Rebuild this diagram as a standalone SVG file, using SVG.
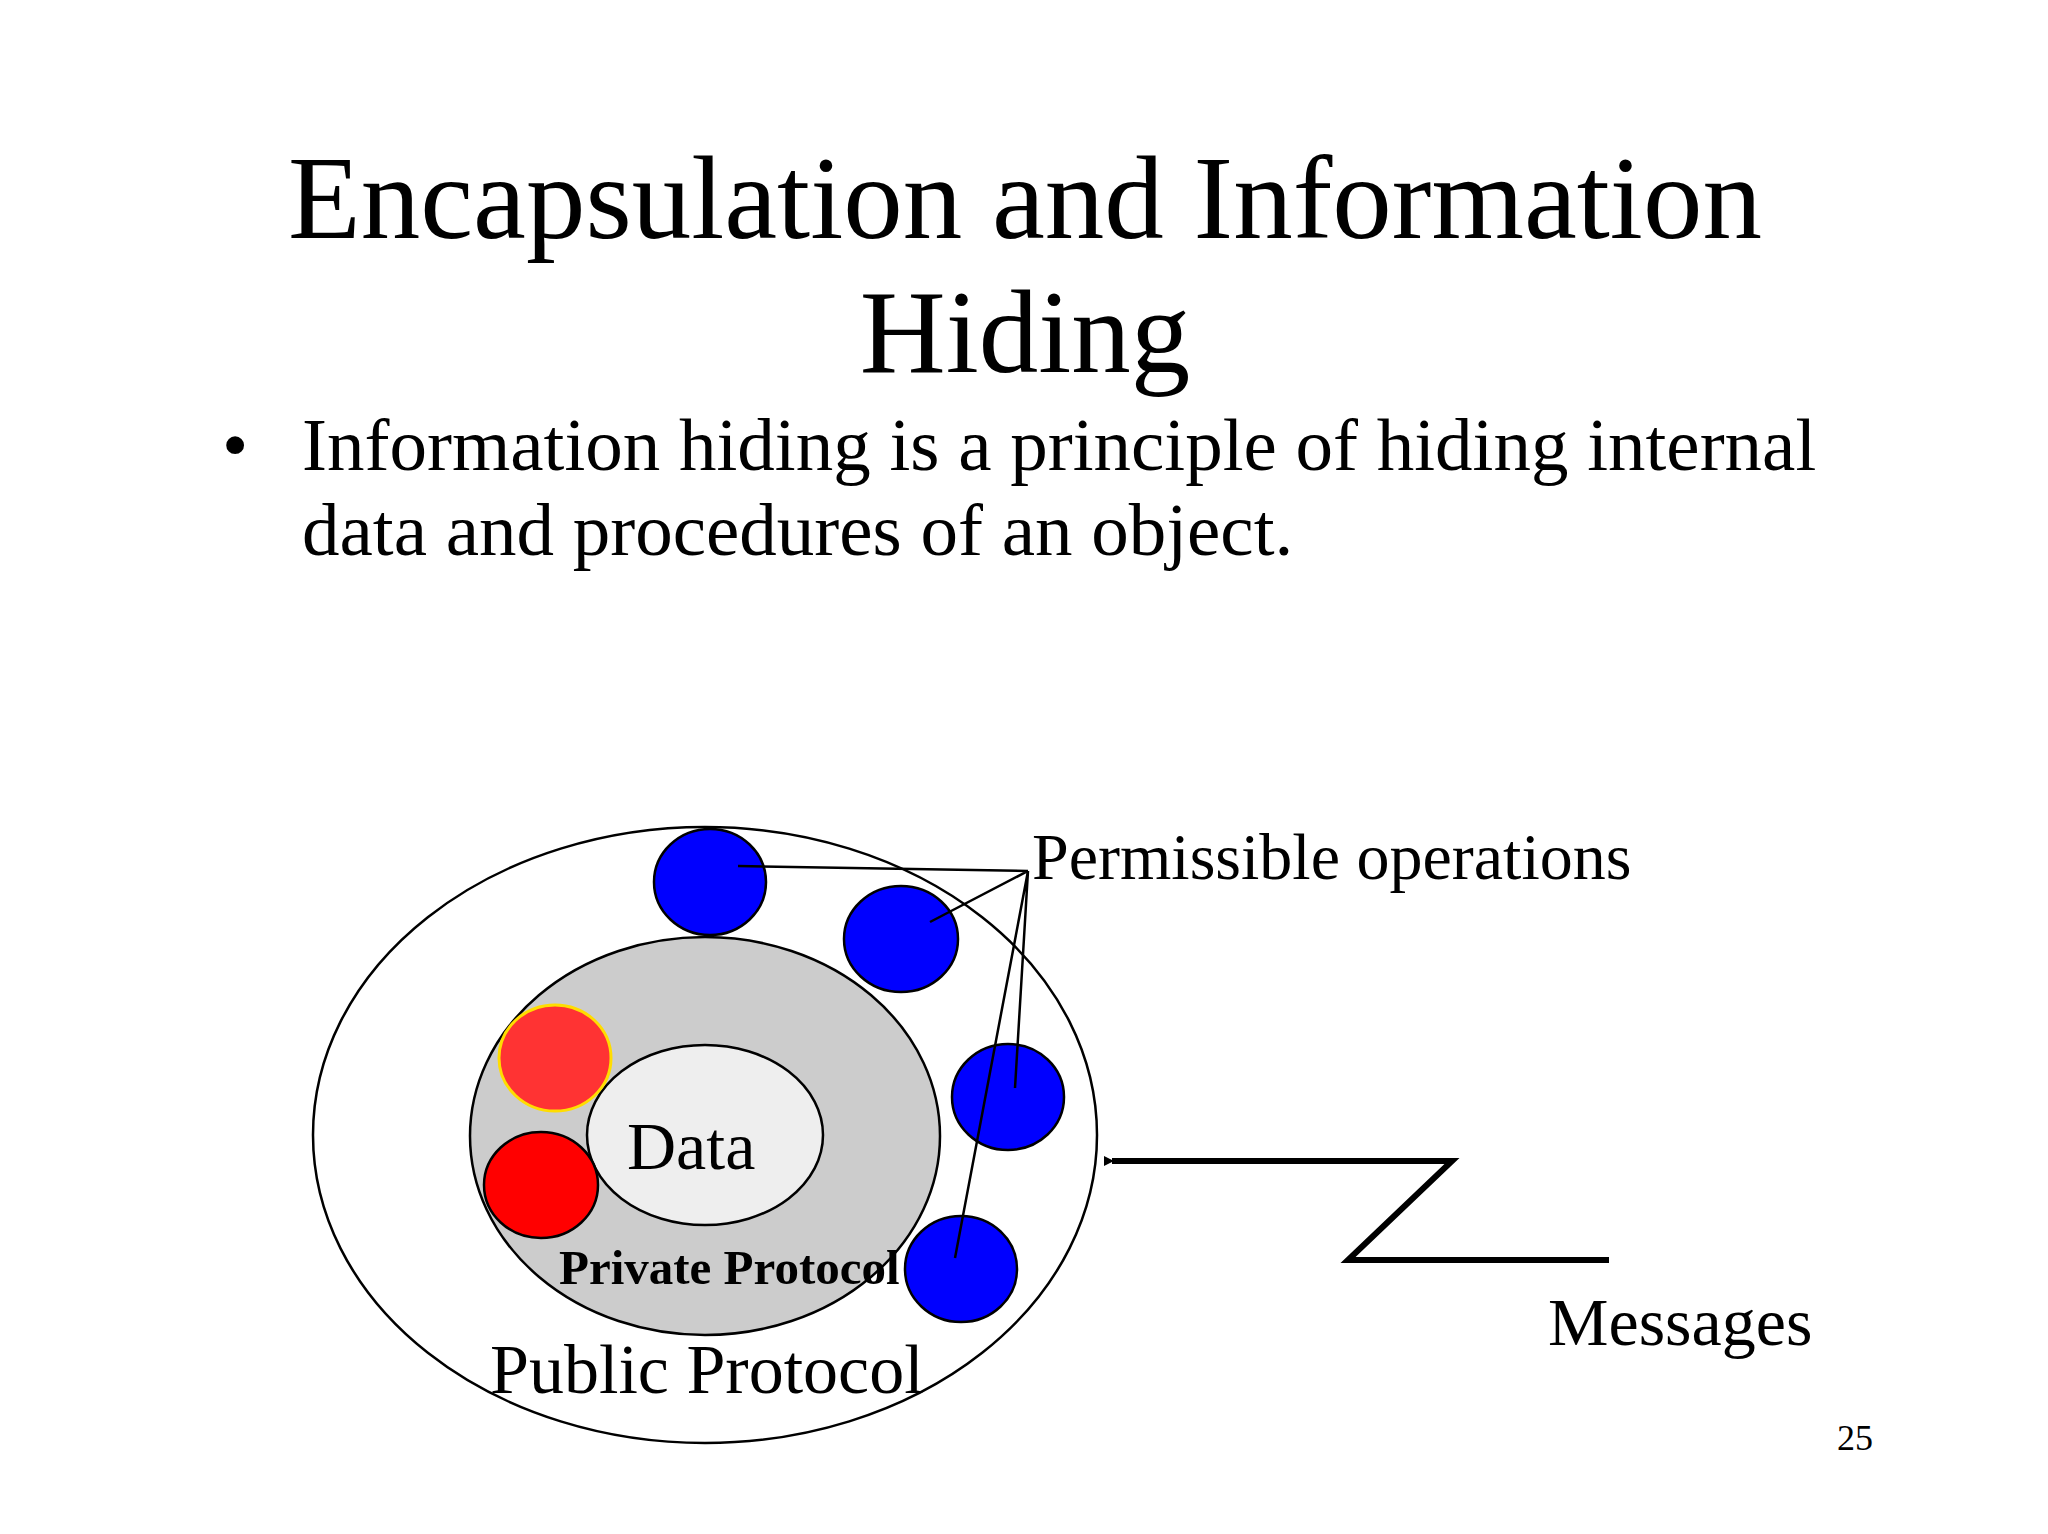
<svg xmlns="http://www.w3.org/2000/svg" width="2048" height="1534" viewBox="0 0 2048 1534">
<style>
text{font-family:"Liberation Serif","Times New Roman",serif;fill:#000}
.blue{fill:#0000ff;stroke:#000;stroke-width:2.5}
.ln{stroke:#000;stroke-width:2.5;fill:none}
</style>
<defs><marker id="ah" markerWidth="10" markerHeight="10" refX="2" refY="5" orient="auto" markerUnits="userSpaceOnUse" viewBox="0 0 10 10"><path d="M10,0 L0,5 L10,10 z" fill="#000"/></marker></defs>
<rect width="2048" height="1534" fill="#fff"/>
<text x="1025" y="238" font-size="119" text-anchor="middle">Encapsulation and Information</text>
<text x="1025" y="372" font-size="119" text-anchor="middle">Hiding</text>
<text x="222" y="470" font-size="75">•</text>
<text x="302" y="470" font-size="75">Information hiding is a principle of hiding internal</text>
<text x="302" y="555" font-size="75">data and procedures of an object.</text>
<g id="public"><ellipse cx="705" cy="1135" rx="392" ry="308" fill="#fff" stroke="#000" stroke-width="2.5"/><text x="490" y="1393" font-size="70">Public Protocol</text></g>
<g id="private"><ellipse cx="705" cy="1136" rx="235" ry="199" fill="#cccccc" stroke="#000" stroke-width="2.5"/><text x="559" y="1284" font-size="49" font-weight="bold">Private Protocol</text></g>
<g id="data"><ellipse cx="705" cy="1135" rx="118" ry="90" fill="#eeeeee" stroke="#000" stroke-width="2.5"/><text x="627" y="1169" font-size="68">Data</text></g>
<g id="red1"><ellipse cx="555" cy="1058" rx="56" ry="53" fill="#ff3333" stroke="#ffdd00" stroke-width="3"/></g>
<g id="red2"><ellipse cx="541" cy="1185" rx="57" ry="53" fill="#ff0000" stroke="#000" stroke-width="2.5"/></g>
<g id="op1"><ellipse class="blue" cx="710" cy="882" rx="56" ry="53"/></g>
<g id="op2"><ellipse class="blue" cx="901" cy="939" rx="57" ry="53"/></g>
<g id="op3"><ellipse class="blue" cx="1008" cy="1097" rx="56" ry="53"/></g>
<g id="op4"><ellipse class="blue" cx="961" cy="1269" rx="56" ry="53"/></g>
<g id="connectors">
<path class="ln" d="M1028,871 L738,866 M1028,871 L930,922 M1028,871 L1015,1088 M1028,871 L955,1258"/>
<path d="M1609,1260 L1348,1260 L1452,1161 L1112,1161" fill="none" stroke="#000" stroke-width="6" marker-end="url(#ah)"/>
</g>
<text x="1032" y="879" font-size="66">Permissible operations</text>
<text x="1548" y="1345" font-size="68">Messages</text>
<text x="1855" y="1450" font-size="36" text-anchor="middle">25</text>
</svg>
